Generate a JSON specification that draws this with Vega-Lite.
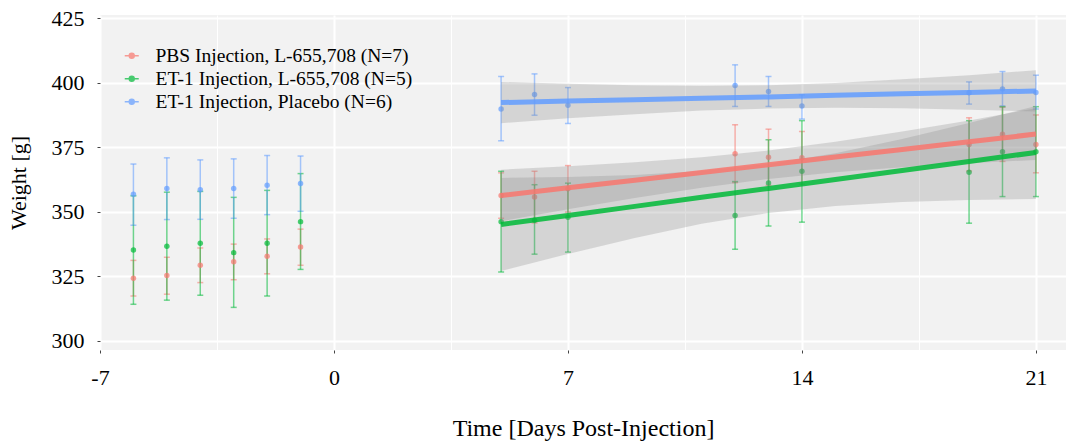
{
  "$schema": "https://vega.github.io/schema/vega-lite/v6.json",
  "width": 966,
  "height": 335,
  "autosize": "none",
  "padding": {"left": 100, "top": 15, "right": 0, "bottom": 94},
  "background": "white",
  "config": {
    "view": {"fill": "#F2F2F2", "stroke": null},
    "font": "Liberation Serif",
    "axis": {
      "labelFont": "Liberation Serif", "titleFont": "Liberation Serif",
      "labelFontSize": 22, "titleFontSize": 22, "titleFontWeight": "normal",
      "labelColor": "black", "titleColor": "black", "domain": false,
      "gridColor": "white", "gridOpacity": 1, "tickColor": "#444", "tickSize": 3,
      "labelOverlap": false, "labelFlush": false
    }
  },
  "datasets": {
    "obs": [
      {"group": "PBS Injection, L-655,708 (N=7)", "day": -6, "w": 324.3, "lo": 317.4, "hi": 331.2},
      {"group": "PBS Injection, L-655,708 (N=7)", "day": -5, "w": 325.3, "lo": 318.1, "hi": 332.4},
      {"group": "PBS Injection, L-655,708 (N=7)", "day": -4, "w": 329.3, "lo": 322.6, "hi": 336.0},
      {"group": "PBS Injection, L-655,708 (N=7)", "day": -3, "w": 330.7, "lo": 323.7, "hi": 337.5},
      {"group": "PBS Injection, L-655,708 (N=7)", "day": -2, "w": 332.8, "lo": 326.0, "hi": 339.5},
      {"group": "PBS Injection, L-655,708 (N=7)", "day": -1, "w": 336.4, "lo": 329.3, "hi": 343.3},
      {"group": "PBS Injection, L-655,708 (N=7)", "day": 5, "w": 356.3, "lo": 347.5, "hi": 365.1},
      {"group": "PBS Injection, L-655,708 (N=7)", "day": 6, "w": 355.7, "lo": 345.7, "hi": 365.7},
      {"group": "PBS Injection, L-655,708 (N=7)", "day": 7, "w": 358.9, "lo": 349.9, "hi": 367.9},
      {"group": "PBS Injection, L-655,708 (N=7)", "day": 12, "w": 372.5, "lo": 361.3, "hi": 383.7},
      {"group": "PBS Injection, L-655,708 (N=7)", "day": 13, "w": 371.1, "lo": 360.2, "hi": 382.0},
      {"group": "PBS Injection, L-655,708 (N=7)", "day": 14, "w": 370.9, "lo": 360.7, "hi": 381.1},
      {"group": "PBS Injection, L-655,708 (N=7)", "day": 19, "w": 376.1, "lo": 365.8, "hi": 386.4},
      {"group": "PBS Injection, L-655,708 (N=7)", "day": 20, "w": 380.0, "lo": 369.5, "hi": 390.5},
      {"group": "PBS Injection, L-655,708 (N=7)", "day": 21, "w": 376.1, "lo": 365.1, "hi": 387.5},
      {"group": "ET-1 Injection, L-655,708 (N=5)", "day": -6, "w": 335.2, "lo": 314.2, "hi": 356.2},
      {"group": "ET-1 Injection, L-655,708 (N=5)", "day": -5, "w": 336.7, "lo": 315.8, "hi": 357.6},
      {"group": "ET-1 Injection, L-655,708 (N=5)", "day": -4, "w": 337.8, "lo": 317.7, "hi": 357.9},
      {"group": "ET-1 Injection, L-655,708 (N=5)", "day": -3, "w": 334.2, "lo": 313.0, "hi": 355.6},
      {"group": "ET-1 Injection, L-655,708 (N=5)", "day": -2, "w": 337.8, "lo": 317.4, "hi": 358.3},
      {"group": "ET-1 Injection, L-655,708 (N=5)", "day": -1, "w": 346.2, "lo": 327.7, "hi": 364.8},
      {"group": "ET-1 Injection, L-655,708 (N=5)", "day": 5, "w": 346.2, "lo": 326.7, "hi": 365.7},
      {"group": "ET-1 Injection, L-655,708 (N=5)", "day": 6, "w": 346.7, "lo": 333.6, "hi": 360.5},
      {"group": "ET-1 Injection, L-655,708 (N=5)", "day": 7, "w": 347.9, "lo": 334.4, "hi": 361.1},
      {"group": "ET-1 Injection, L-655,708 (N=5)", "day": 12, "w": 348.6, "lo": 335.5, "hi": 361.7},
      {"group": "ET-1 Injection, L-655,708 (N=5)", "day": 13, "w": 361.2, "lo": 344.5, "hi": 377.9},
      {"group": "ET-1 Injection, L-655,708 (N=5)", "day": 14, "w": 365.7, "lo": 346.0, "hi": 385.3},
      {"group": "ET-1 Injection, L-655,708 (N=5)", "day": 19, "w": 365.3, "lo": 345.6, "hi": 385.3},
      {"group": "ET-1 Injection, L-655,708 (N=5)", "day": 20, "w": 373.3, "lo": 355.9, "hi": 390.7},
      {"group": "ET-1 Injection, L-655,708 (N=5)", "day": 21, "w": 373.3, "lo": 355.9, "hi": 390.7},
      {"group": "ET-1 Injection, Placebo (N=6)", "day": -6, "w": 356.8, "lo": 344.8, "hi": 368.5},
      {"group": "ET-1 Injection, Placebo (N=6)", "day": -5, "w": 359.0, "lo": 347.0, "hi": 370.9},
      {"group": "ET-1 Injection, Placebo (N=6)", "day": -4, "w": 358.5, "lo": 347.1, "hi": 370.1},
      {"group": "ET-1 Injection, Placebo (N=6)", "day": -3, "w": 359.0, "lo": 347.5, "hi": 370.5},
      {"group": "ET-1 Injection, Placebo (N=6)", "day": -2, "w": 360.3, "lo": 348.9, "hi": 371.8},
      {"group": "ET-1 Injection, Placebo (N=6)", "day": -1, "w": 361.0, "lo": 350.2, "hi": 371.6},
      {"group": "ET-1 Injection, Placebo (N=6)", "day": 5, "w": 389.8, "lo": 377.5, "hi": 402.4},
      {"group": "ET-1 Injection, Placebo (N=6)", "day": 6, "w": 395.4, "lo": 387.4, "hi": 403.4},
      {"group": "ET-1 Injection, Placebo (N=6)", "day": 7, "w": 391.3, "lo": 384.2, "hi": 398.1},
      {"group": "ET-1 Injection, Placebo (N=6)", "day": 12, "w": 398.9, "lo": 390.8, "hi": 406.9},
      {"group": "ET-1 Injection, Placebo (N=6)", "day": 13, "w": 396.6, "lo": 390.8, "hi": 402.4},
      {"group": "ET-1 Injection, Placebo (N=6)", "day": 14, "w": 391.0, "lo": 385.9, "hi": 395.3},
      {"group": "ET-1 Injection, Placebo (N=6)", "day": 19, "w": 396.1, "lo": 391.7, "hi": 400.3},
      {"group": "ET-1 Injection, Placebo (N=6)", "day": 20, "w": 397.6, "lo": 391.0, "hi": 404.3},
      {"group": "ET-1 Injection, Placebo (N=6)", "day": 21, "w": 396.2, "lo": 389.8, "hi": 402.9}
    ],
    "fit": [
      {"group": "PBS Injection, L-655,708 (N=7)", "day": 5, "fit": 356.3, "lo": 346.3, "hi": 366.3},
      {"group": "PBS Injection, L-655,708 (N=7)", "day": 7, "fit": 359.3, "lo": 351.0, "hi": 367.6},
      {"group": "PBS Injection, L-655,708 (N=7)", "day": 9, "fit": 362.25, "lo": 355.35, "hi": 369.15},
      {"group": "PBS Injection, L-655,708 (N=7)", "day": 11, "fit": 365.2, "lo": 359.3, "hi": 371.1},
      {"group": "PBS Injection, L-655,708 (N=7)", "day": 13, "fit": 368.2, "lo": 362.7, "hi": 373.7},
      {"group": "PBS Injection, L-655,708 (N=7)", "day": 15, "fit": 371.2, "lo": 365.3, "hi": 377.1},
      {"group": "PBS Injection, L-655,708 (N=7)", "day": 17, "fit": 374.15, "lo": 367.25, "hi": 381.05},
      {"group": "PBS Injection, L-655,708 (N=7)", "day": 19, "fit": 377.1, "lo": 368.8, "hi": 385.4},
      {"group": "PBS Injection, L-655,708 (N=7)", "day": 21, "fit": 380.1, "lo": 370.1, "hi": 390.1},
      {"group": "ET-1 Injection, L-655,708 (N=5)", "day": 5, "fit": 345.1, "lo": 327.1, "hi": 363.1},
      {"group": "ET-1 Injection, L-655,708 (N=5)", "day": 7, "fit": 348.6, "lo": 333.7, "hi": 363.5},
      {"group": "ET-1 Injection, L-655,708 (N=5)", "day": 9, "fit": 352.1, "lo": 339.9, "hi": 364.3},
      {"group": "ET-1 Injection, L-655,708 (N=5)", "day": 11, "fit": 355.6, "lo": 345.4, "hi": 365.8},
      {"group": "ET-1 Injection, L-655,708 (N=5)", "day": 13, "fit": 359.05, "lo": 349.55, "hi": 368.55},
      {"group": "ET-1 Injection, L-655,708 (N=5)", "day": 15, "fit": 362.5, "lo": 352.3, "hi": 372.7},
      {"group": "ET-1 Injection, L-655,708 (N=5)", "day": 17, "fit": 366.0, "lo": 353.8, "hi": 378.2},
      {"group": "ET-1 Injection, L-655,708 (N=5)", "day": 19, "fit": 369.5, "lo": 354.6, "hi": 384.4},
      {"group": "ET-1 Injection, L-655,708 (N=5)", "day": 21, "fit": 373.0, "lo": 355.0, "hi": 391.0},
      {"group": "ET-1 Injection, Placebo (N=6)", "day": 5, "fit": 392.3, "lo": 384.3, "hi": 400.3},
      {"group": "ET-1 Injection, Placebo (N=6)", "day": 7, "fit": 392.9, "lo": 386.2, "hi": 399.6},
      {"group": "ET-1 Injection, Placebo (N=6)", "day": 9, "fit": 393.4, "lo": 387.8, "hi": 399.0},
      {"group": "ET-1 Injection, Placebo (N=6)", "day": 11, "fit": 394.0, "lo": 389.2, "hi": 398.8},
      {"group": "ET-1 Injection, Placebo (N=6)", "day": 13, "fit": 394.5, "lo": 390.0, "hi": 399.0},
      {"group": "ET-1 Injection, Placebo (N=6)", "day": 15, "fit": 395.1, "lo": 390.3, "hi": 399.9},
      {"group": "ET-1 Injection, Placebo (N=6)", "day": 17, "fit": 395.7, "lo": 390.1, "hi": 401.3},
      {"group": "ET-1 Injection, Placebo (N=6)", "day": 19, "fit": 396.2, "lo": 389.5, "hi": 402.9},
      {"group": "ET-1 Injection, Placebo (N=6)", "day": 21, "fit": 396.8, "lo": 388.8, "hi": 404.8}
    ]
  },
  "layer": [
    {
      "data": {"name": "obs"},
      "mark": {"type": "errorbar", "ticks": {"size": 6, "opacity": 0.55}, "rule": {"opacity": 0.55}, "thickness": 1.5},
      "encoding": {
        "x": {
          "field": "day", "type": "quantitative",
          "scale": {"domain": [-7, 21.9], "nice": false, "zero": false},
          "axis": {
            "title": "Time [Days Post-Injection]", "titleFontSize": 24,
            "values": [-7, -3.5, 0, 3.5, 7, 10.5, 14, 17.5, 21],
            "labelExpr": "datum.value % 7 === 0 ? '' + datum.value : ''",
            "tickOpacity": {"condition": {"test": "datum.value % 7 === 0", "value": 1}, "value": 0},
            "gridWidth": {"condition": {"test": "datum.value % 7 === 0", "value": 2}, "value": 1},
            "labelPadding": 14, "titlePadding": 28
          }
        },
        "y": {
          "field": "lo", "type": "quantitative",
          "scale": {"domain": [296.5, 426.2], "nice": false, "zero": false},
          "axis": {
            "title": "Weight [g]",
            "values": [300, 312.5, 325, 337.5, 350, 362.5, 375, 387.5, 400, 412.5, 425],
            "labelExpr": "datum.value % 25 === 0 ? '' + datum.value : ''",
            "tickOpacity": {"condition": {"test": "datum.value % 25 === 0", "value": 1}, "value": 0},
            "gridWidth": {"condition": {"test": "datum.value % 25 === 0", "value": 2}, "value": 1},
            "labelPadding": 13, "titlePadding": 21
          }
        },
        "y2": {"field": "hi"},
        "color": {
          "field": "group", "type": "nominal",
          "scale": {
            "domain": ["PBS Injection, L-655,708 (N=7)", "ET-1 Injection, L-655,708 (N=5)", "ET-1 Injection, Placebo (N=6)"],
            "range": ["#F8766D", "#00BA38", "#619CFF"]
          }
        }
      }
    },
    {
      "data": {"name": "obs"},
      "mark": {"type": "circle", "size": 30, "opacity": 0.7},
      "encoding": {
        "x": {"field": "day", "type": "quantitative"},
        "y": {"field": "w", "type": "quantitative"},
        "color": {
          "field": "group", "type": "nominal",
          "legend": {
            "title": null, "orient": "none", "legendX": 22, "legendY": 31,
            "symbolType": "M-1,0L1,0M-0.35,0A0.35,0.35,0,1,1,0.35,0A0.35,0.35,0,1,1,-0.35,0Z",
            "symbolSize": 196, "symbolStrokeWidth": 1.5, "symbolOpacity": 0.7,
            "labelFont": "Liberation Serif", "labelFontSize": 19.5, "labelColor": "black",
            "labelOffset": 14, "rowPadding": 2, "padding": 0, "labelLimit": 450,
            "encode": {"symbols": {"update": {"stroke": {"scale": "color", "field": "value"}, "fill": {"scale": "color", "field": "value"}}}}
          }
        }
      }
    },
    {
      "data": {"name": "fit"},
      "mark": {"type": "area", "color": "#888888", "opacity": 0.28},
      "encoding": {
        "x": {"field": "day", "type": "quantitative"},
        "y": {"field": "lo", "type": "quantitative"},
        "y2": {"field": "hi"},
        "detail": {"field": "group", "type": "nominal"}
      }
    },
    {
      "data": {"name": "fit"},
      "mark": {"type": "line", "strokeWidth": 5, "opacity": 0.85},
      "encoding": {
        "x": {"field": "day", "type": "quantitative"},
        "y": {"field": "fit", "type": "quantitative"},
        "color": {"field": "group", "type": "nominal"}
      }
    }
  ]
}
